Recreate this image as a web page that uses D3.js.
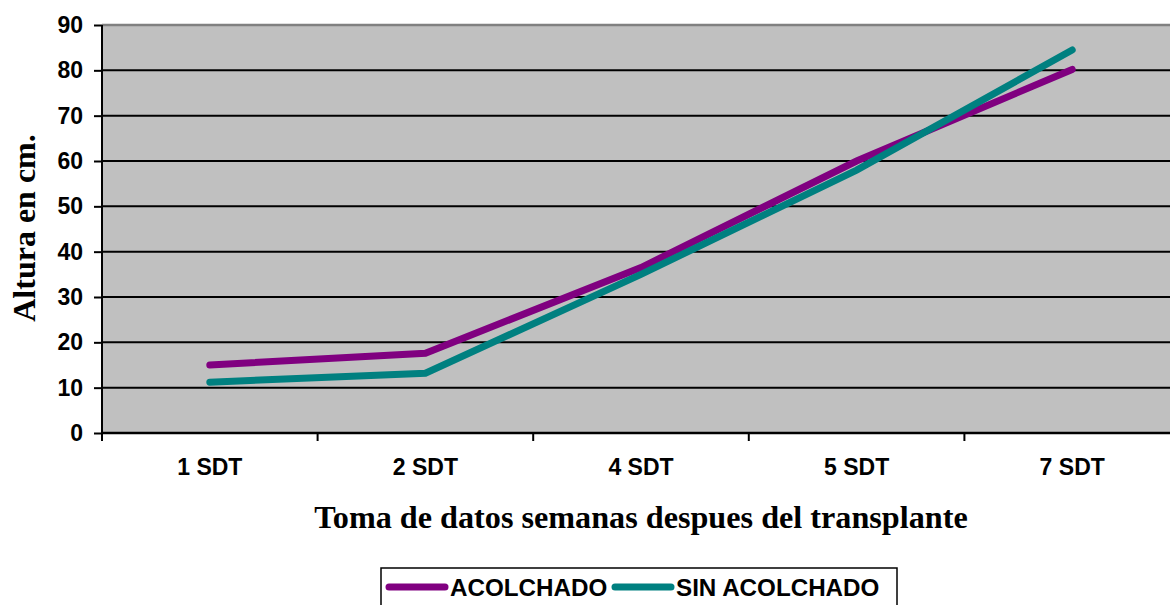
<!DOCTYPE html>
<html>
<head>
<meta charset="utf-8">
<script src="https://cdn.jsdelivr.net/npm/d3@7"></script>
<style>
  html, body { margin: 0; padding: 0; background: #fff; }
  svg { display: block; }
</style>
</head>
<body>
<svg id="chart" width="1170" height="605"></svg>
<script>
// Plant height (cm) measured in weeks after transplant
const categories = ["1 SDT", "2 SDT", "4 SDT", "5 SDT", "7 SDT"];
const acolchado = [15.0, 17.6, 36.5, 60.0, 80.2];
const sinAcolchado = [11.2, 13.2, 35.0, 58.0, 84.5];
const yTicks = [0, 10, 20, 30, 40, 50, 60, 70, 80, 90];
const seriesNames = ["ACOLCHADO", "SIN ACOLCHADO"];
const seriesColors = ["#800080", "#008080"];

const sans = "Liberation Sans, Arial, sans-serif";
const serif = "Liberation Serif, Times New Roman, serif";

const svg = d3.select("#chart");
const plotLeft = 102, plotRight = 1180, plotTop = 25, plotBottom = 433;

const x = d3.scaleBand().domain(categories).range([plotLeft, plotRight]);
const y = d3.scaleLinear().domain([0, 90]).range([plotBottom, plotTop]);

// plot background
svg.append("rect")
  .attr("x", plotLeft).attr("y", plotTop)
  .attr("width", plotRight - plotLeft).attr("height", plotBottom - plotTop)
  .attr("fill", "#c0c0c0");

// top border
svg.append("line")
  .attr("x1", plotLeft).attr("x2", plotRight)
  .attr("y1", plotTop).attr("y2", plotTop)
  .attr("stroke", "#808080").attr("stroke-width", 2.5);

// horizontal gridlines
svg.append("g")
  .selectAll("line")
  .data(yTicks.filter(d => d > 0 && d < 90))
  .join("line")
  .attr("x1", plotLeft).attr("x2", plotRight)
  .attr("y1", d => y(d)).attr("y2", d => y(d))
  .attr("stroke", "#000").attr("stroke-width", 2);

// y axis
const yAxis = svg.append("g")
  .attr("transform", `translate(${plotLeft},0)`)
  .call(d3.axisLeft(y).tickValues(yTicks).tickSize(8).tickPadding(11));
yAxis.select(".domain").attr("stroke", "#000").attr("stroke-width", 2)
  .attr("d", `M0,${plotBottom + 8}V${plotTop}`);
yAxis.selectAll(".tick line").attr("stroke", "#000").attr("stroke-width", 2);
yAxis.selectAll(".tick text")
  .attr("font-family", sans)
  .attr("font-weight", "bold").attr("font-size", 23).attr("fill", "#000");

// x axis
const xAxis = svg.append("g")
  .attr("transform", `translate(0,${plotBottom})`)
  .call(d3.axisBottom(x).tickSize(0).tickPadding(26));
xAxis.select(".domain").attr("stroke", "#000").attr("stroke-width", 2.5)
  .attr("d", `M${plotLeft},0H${plotRight}`);
xAxis.selectAll(".tick text")
  .attr("font-family", sans)
  .attr("font-weight", "bold").attr("font-size", 23).attr("fill", "#000");
// category boundary ticks
svg.append("g")
  .selectAll("line")
  .data(categories)
  .join("line")
  .attr("x1", d => x(d)).attr("x2", d => x(d))
  .attr("y1", plotBottom).attr("y2", plotBottom + 8)
  .attr("stroke", "#000").attr("stroke-width", 2);

// series lines
const line = d3.line()
  .x((d, i) => x(categories[i]) + x.bandwidth() / 2)
  .y(d => y(d));

[acolchado, sinAcolchado].forEach((vals, k) => {
  svg.append("path")
    .datum(vals)
    .attr("d", line)
    .attr("fill", "none")
    .attr("stroke", seriesColors[k])
    .attr("stroke-width", 7)
    .attr("stroke-linecap", "round")
    .attr("stroke-linejoin", "miter");
});

// axis titles
svg.append("text")
  .attr("transform", "translate(35,228) rotate(-90)")
  .attr("text-anchor", "middle")
  .attr("font-family", serif)
  .attr("font-weight", "bold").attr("font-size", 32)
  .text("Altura en cm.");

svg.append("text")
  .attr("x", 641).attr("y", 528)
  .attr("text-anchor", "middle")
  .attr("font-family", serif)
  .attr("font-weight", "bold").attr("font-size", 32.2)
  .text("Toma de datos semanas despues del transplante");

// legend
const legend = svg.append("g");
legend.append("rect")
  .attr("x", 381).attr("y", 568)
  .attr("width", 516).attr("height", 45)
  .attr("fill", "#fff").attr("stroke", "#000").attr("stroke-width", 1.5);
const legendItems = [
  { x1: 389, x2: 445, tx: 450 },
  { x1: 615, x2: 671, tx: 676 }
];
legendItems.forEach((it, k) => {
  legend.append("line")
    .attr("x1", it.x1).attr("x2", it.x2)
    .attr("y1", 587).attr("y2", 587)
    .attr("stroke", seriesColors[k]).attr("stroke-width", 7)
    .attr("stroke-linecap", "round");
  legend.append("text")
    .attr("x", it.tx).attr("y", 596)
    .attr("font-family", sans)
    .attr("font-weight", "bold").attr("font-size", 24.2)
    .text(seriesNames[k]);
});
</script>
</body>
</html>
